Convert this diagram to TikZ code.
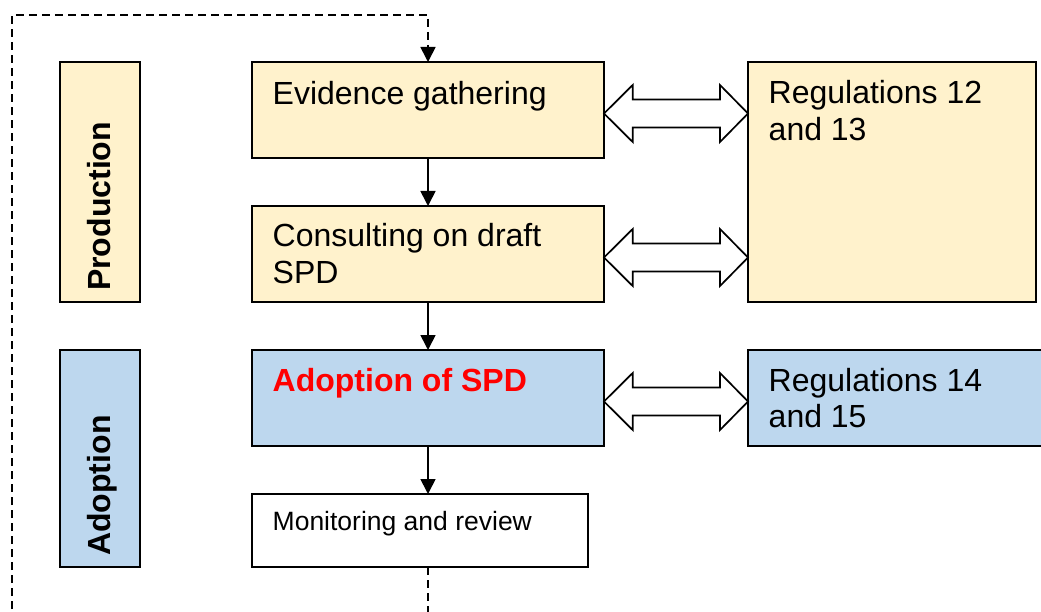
\documentclass[tikz,border=0pt]{standalone}
\usepackage{fontspec}
\setmainfont{Liberation Sans}
\usetikzlibrary{arrows.meta,calc}
\definecolor{yelfill}{HTML}{FFF2CC}
\definecolor{blufill}{HTML}{BDD7EE}
\newcommand\twolines[2]{\vtop{\hbox{#1}\hbox{#2}}}
\newcommand\blockarr[2]{\draw[blockarrow] (#1) -- ++(28.7,-28.5) -- ++(0,14.5) -- ($(#2)+(-28,-14)$) -- ++(0,-14.5) -- (#2) -- ++(-28,28.5) -- ++(0,-14.5) -- ($(#1)+(28.7,14)$) -- ++(0,14.5) -- cycle;}
\begin{document}
\begin{tikzpicture}[x=1pt,y=-1pt,
  box/.style={draw=black, line width=1.7pt, inner sep=0pt, outer sep=0pt, anchor=north west},
  txt/.style={inner sep=0pt, anchor=base west, font=\fontsize{32}{36.6}\selectfont},
  side/.style={inner sep=0pt, anchor=base west, rotate=90, font=\fontsize{32}{36}\selectfont\bfseries},
  conn/.style={line width=1.7pt, -{Triangle[length=15pt,width=15pt]}},
  loopline/.style={line width=1.7pt, dash pattern=on 8pt off 5pt, -{Triangle[length=15pt,width=15pt]}},
  blockarrow/.style={draw=black, fill=white, line width=1.7pt, line join=miter}]
\useasboundingbox (0,0) rectangle (1041,612);
\clip (0,0) rectangle (1041,612);
\fill[white] (0,0) rectangle (1041,612);

% boxes
\node[box, fill=yelfill, minimum width=80, minimum height=240] (prod) at (60,62) {};
\node[box, fill=blufill, minimum width=80, minimum height=217] (adop) at (60,350) {};
\node[box, fill=yelfill, minimum width=352, minimum height=96] (ev) at (252,62) {};
\node[box, fill=yelfill, minimum width=352, minimum height=96] (co) at (252,206) {};
\node[box, fill=blufill, minimum width=352, minimum height=96] (ad) at (252,350) {};
\node[box, fill=white, minimum width=336, minimum height=73] (mon) at (252,494) {};
\node[box, fill=yelfill, minimum width=288, minimum height=240] (r12) at (748,62) {};
\node[box, fill=blufill, minimum width=320, minimum height=96] (r14) at (748,350) {};

% texts
\node[side] (prodt) at ($(prod.south)+(10.5,-11)$) {Production};
\node[side] (adopt) at ($(adop.south)+(10.5,-11)$) {Adoption};
\node[txt] (evt) at ($(ev.north west)+(20.5,42.5)$) {Evidence gathering};
\node[txt] (cot) at ($(co.north west)+(20.5,41)$) {\twolines{Consulting on draft}{SPD}};
\node[txt, font=\fontsize{32}{36}\selectfont\bfseries, text=red] (adt) at ($(ad.north west)+(20.5,41)$) {Adoption of SPD};
\node[txt, font=\fontsize{26.5}{30}\selectfont] (mont) at ($(mon.north west)+(20.5,36)$) {Monitoring and review};
\node[txt] (r12t) at ($(r12.north west)+(20.5,42)$) {\twolines{Regulations 12}{and 13}};
\node[txt] (r14t) at ($(r14.north west)+(20.5,41)$) {\twolines{Regulations 14}{and 15}};

% vertical connectors
\draw[conn] (ev.south) -- (co.north);
\draw[conn] (co.south) -- (ad.north);
\draw[conn] (ad.south) -- (ad.south |- mon.north);

% feedback loop
\coordinate (lb) at (12,640);
\coordinate (lt) at (12,15);
\draw[loopline] (ad.south |- mon.south) -- (ad.south |- lb) -- (lb) -- (lt) -- (ev.north |- lt) -- (ev.north);

% double block arrows
\coordinate (a1l) at ($(ev.east)+(0,3.5)$);
\coordinate (a1r) at (a1l -| r12.west);
\coordinate (a2l) at ($(co.east)+(0,3.5)$);
\coordinate (a2r) at (a2l -| r12.west);
\coordinate (a3l) at ($(ad.east)+(0,3.5)$);
\coordinate (a3r) at (a3l -| r14.west);
\blockarr{a1l}{a1r}
\blockarr{a2l}{a2r}
\blockarr{a3l}{a3r}
\end{tikzpicture}
\end{document}
